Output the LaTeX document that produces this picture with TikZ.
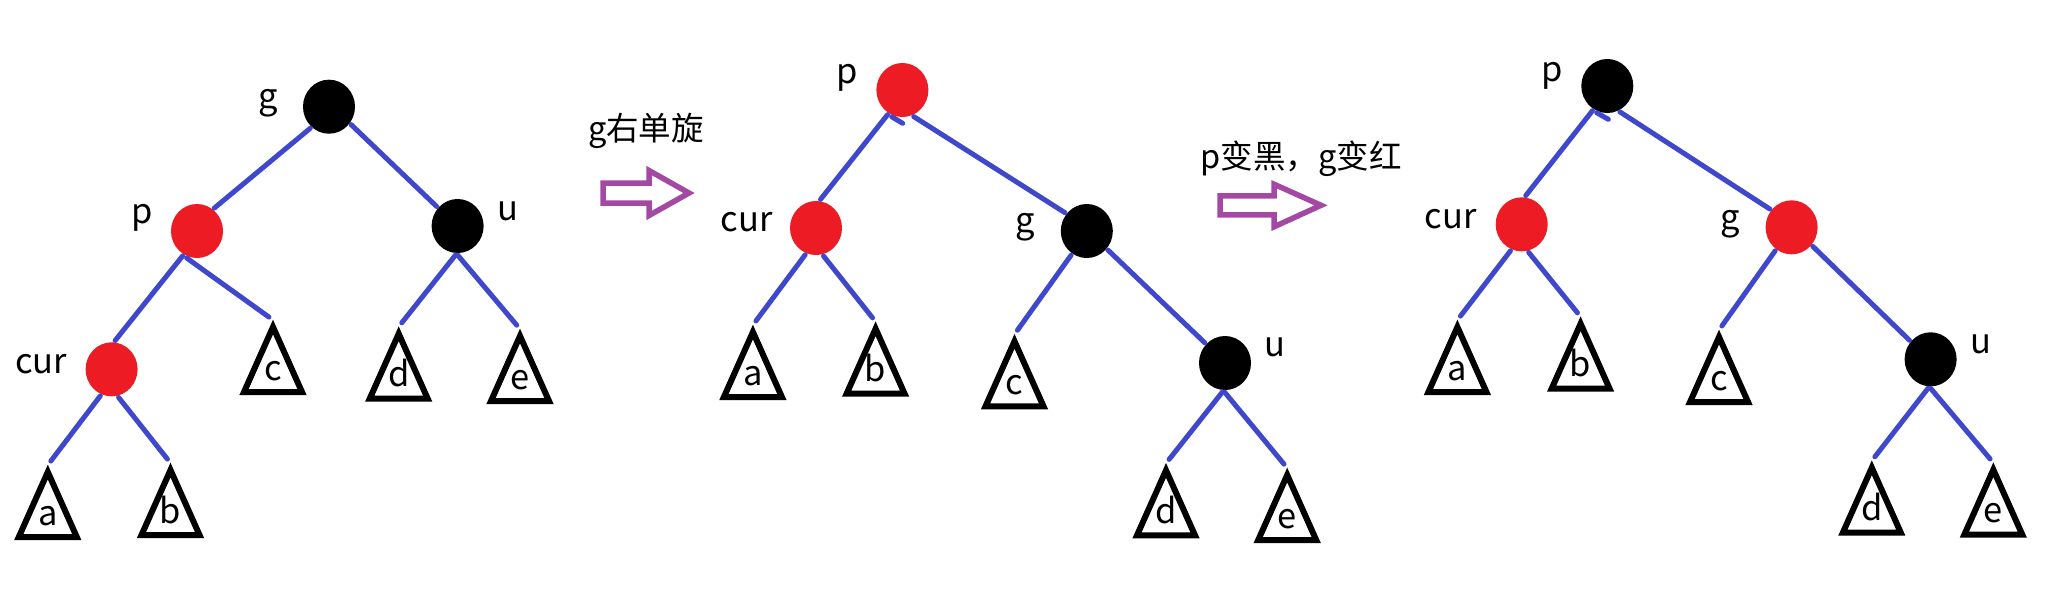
\documentclass[tikz,border=0pt]{standalone}
\usepackage{fontspec}
\setmainfont{Noto Sans CJK SC}
\usetikzlibrary{shapes.geometric,calc}
\definecolor{rbred}{HTML}{ED1C24}
\definecolor{edgeblue}{HTML}{3F48CC}
\definecolor{arrowpurple}{HTML}{A349A4}
\tikzset{
  rbnode/.style={ellipse, minimum width=0.52cm, minimum height=0.54cm, inner sep=0pt, outer sep=0.02cm, draw=none},
  blacknode/.style={rbnode, fill=black},
  rednode/.style={rbnode, fill=rbred},
  edge/.style={draw=edgeblue, line width=0.05cm, line cap=round},
  triedge/.style={edge, shorten >=0.05cm},
  tri/.style={draw=black, line width=0.06cm},
  lbl/.style={inner sep=0pt, font=\fontsize{9.8pt}{11pt}\selectfont, anchor=base},
  toplbl/.style={inner sep=0pt, font=\fontsize{9.25pt}{11pt}\selectfont, anchor=base},
  hollowarrow/.style={draw=arrowpurple, line width=0.055cm, line join=miter}
}
\newcommand{\subtree}[3]{%
  \coordinate (#1) at (#2);
  \draw[tri] ($(#1)+(0,7)$) -- ++(-29,65) -- ++(58,0) -- cycle;
  \node[lbl] (#1-l) at ($(#1)+(0,60)$) {#3};
}
\begin{document}
\begin{tikzpicture}[x=0.01cm, y=-0.01cm]
\path[use as bounding box] (0,0) rectangle (2055,590);

% ---------------- Tree 1 ----------------
\node[blacknode] (g1) at (329,106.7) {};
\node[rednode] (p1) at (197,231) {};
\node[blacknode] (u1) at (457.6,226) {};
\node[rednode] (cur1) at (111.6,369.3) {};
\node[lbl] (g1l) at (268,108) {g};
\node[lbl] (p1l) at (142,223) {p};
\node[lbl] (u1l) at (507.6,220) {u};
\node[lbl] (cur1l) at (41,373.3) {cur};
\subtree{t1a}{47.8,465}{a}
\subtree{t1b}{170.5,463}{b}
\subtree{t1c}{273,320}{c}
\subtree{t1d}{398.7,326.7}{d}
\subtree{t1e}{520,329}{e}
\draw[edge] (g1.-131) -- (p1.53.5);
\draw[edge] (g1.-39.7) -- (u1.137.4);
\draw[edge] (p1.-120.6) -- (cur1.83);
\draw[triedge] (p1.-111.8) -- (t1c);
\draw[triedge] (cur1.-113.9) -- (t1a);
\draw[triedge] (cur1.-76.8) -- (t1b);
\draw[triedge] (u1.-94.8) -- (t1d);
\draw[triedge] (u1.-90) -- (t1e);

% ---------------- Arrow 1 ----------------
\node[toplbl] (txt1) at (646,140) {g右单旋};
\draw[hollowarrow] (603,183) coordinate (a1) -- (649,183) -- (649,170.5) -- (689,193) -- (649,215.5) -- (649,203) -- (603,203) -- cycle;

% ---------------- Tree 2 ----------------
\node[rednode] (p2) at (902.4,90) {};
\node[rednode] (cur2) at (816,228) {};
\node[blacknode] (g2) at (1086.8,231) {};
\node[blacknode] (u2) at (1225,363) {};
\node[lbl] (p2l) at (847,83) {p};
\node[lbl] (cur2l) at (746.6,231.7) {cur};
\node[lbl] (g2l) at (1025.6,232.7) {g};
\node[lbl] (u2l) at (1275,356.7) {u};
\subtree{t2a}{752.9,325}{a}
\subtree{t2b}{875.6,321.7}{b}
\subtree{t2c}{1014.5,334.3}{c}
\subtree{t2d}{1166,463.3}{d}
\subtree{t2e}{1287.2,468}{e}
\draw[edge] (p2.-121.7) -- (cur2.81.6);
\draw[edge] (p2.-67.6) -- (g2.140.9);
\draw[triedge] (cur2.-112) -- (t2a);
\draw[triedge] (cur2.-75.8) -- (t2b);
\draw[triedge] (g2.-123.4) -- (t2c);
\draw[edge] (g2.-42.2) -- (u2.135.4);
\draw[triedge] (u2.-95.7) -- (t2d);
\draw[triedge] (u2.-91) -- (t2e);
\coordinate (s2a) at (891.7,116.7);
\coordinate (s2b) at (902.7,123.3);
\draw[edge] (s2a) -- (s2b);

% ---------------- Arrow 2 ----------------
\node[toplbl] (txt2) at (1301,168.5) {p变黑，g变红};
\draw[hollowarrow] (1220,195.8) coordinate (a2) -- (1274,195.8) -- (1274,184.2) -- (1321,205.3) -- (1274,226.8) -- (1274,214.8) -- (1220,214.8) -- cycle;

% ---------------- Tree 3 ----------------
\node[blacknode] (p3) at (1607.3,86) {};
\node[rednode] (cur3) at (1521.7,224.3) {};
\node[rednode] (g3) at (1791.6,227.3) {};
\node[blacknode] (u3) at (1930.6,359.3) {};
\node[lbl] (p3l) at (1551.7,81) {p};
\node[lbl] (cur3l) at (1450.8,228.3) {cur};
\node[lbl] (g3l) at (1730,229.3) {g};
\node[lbl] (u3l) at (1980.8,353.3) {u};
\subtree{t3a}{1457.4,320}{a}
\subtree{t3b}{1580.6,316.7}{b}
\subtree{t3c}{1719,330}{c}
\subtree{t3d}{1871.8,460.7}{d}
\subtree{t3e}{1993.3,462.7}{e}
\draw[edge] (p3.-121.4) -- (cur3.82);
\draw[edge] (p3.-64) -- (g3.140);
\draw[triedge] (cur3.-113.4) -- (t3a);
\draw[triedge] (cur3.-76.4) -- (t3b);
\draw[triedge] (g3.-125) -- (t3c);
\draw[edge] (g3.-42.8) -- (u3.138.5);
\draw[triedge] (u3.-95) -- (t3d);
\draw[triedge] (u3.-90) -- (t3e);
\coordinate (s3a) at (1596.7,112.7);
\coordinate (s3b) at (1608.3,119.3);
\draw[edge] (s3a) -- (s3b);
\end{tikzpicture}
\end{document}
